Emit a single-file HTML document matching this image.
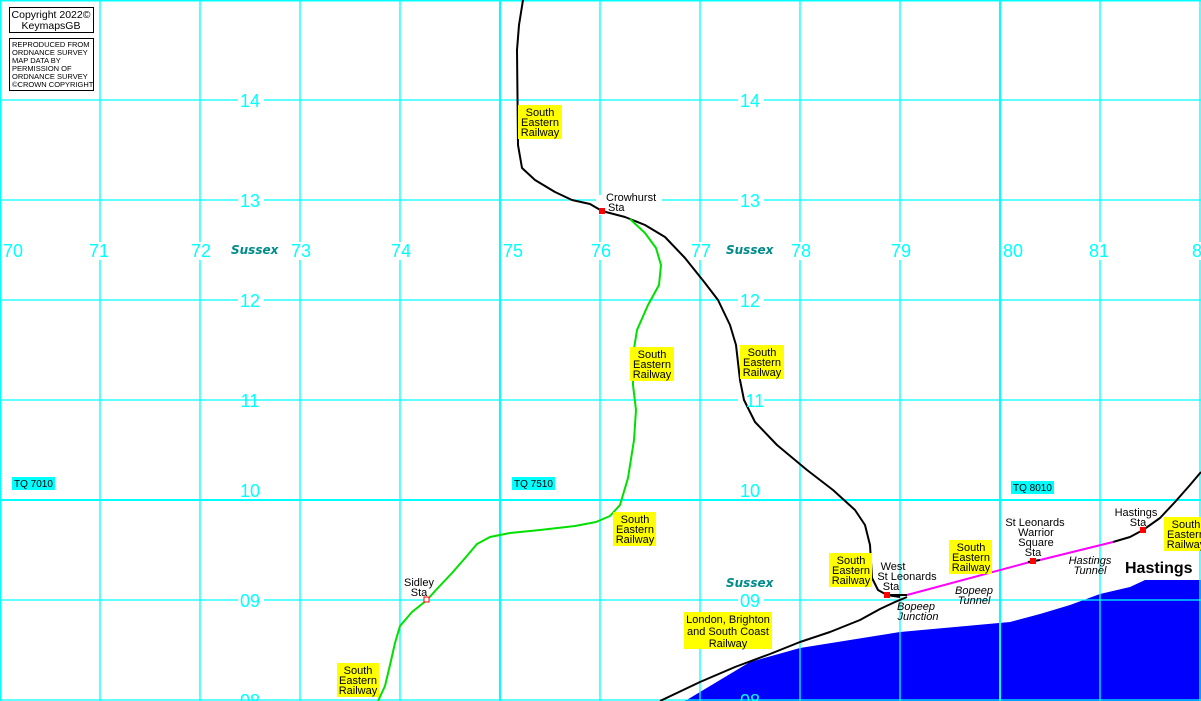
<!DOCTYPE html>
<html><head><meta charset="utf-8"><style>
body{margin:0;background:#fff}
svg{display:block}
.c{font-family:"Liberation Sans",sans-serif;font-size:18px;fill:#00ffff}
.s{font-family:"Liberation Sans",sans-serif;font-size:11px;fill:#000}
.sx{font-family:"DejaVu Sans",sans-serif;font-size:12px;font-style:italic;font-weight:bold;fill:#008b8b}
.it{font-family:"Liberation Sans",sans-serif;font-size:11px;font-style:italic;fill:#000}
</style></head><body>
<svg width="1201" height="701" viewBox="0 0 1201 701" xmlns="http://www.w3.org/2000/svg">
<rect width="1201" height="701" fill="#fff"/>
<path d="M685,701 L720,680 L750,662 L800,648 L850,640 L900,632 L1010,622 L1040,614 L1070,605 L1100,594 L1130,587 L1145,580 L1201,580 L1201,701 Z" fill="#0000ff"/>
<g stroke="#00ffff" stroke-width="1.3">
<line x1="0.5" y1="0" x2="0.5" y2="701" stroke-width="2"/>
<line x1="100" y1="0" x2="100" y2="701"/><line x1="200" y1="0" x2="200" y2="701"/>
<line x1="300" y1="0" x2="300" y2="701"/><line x1="400" y1="0" x2="400" y2="701"/>
<line x1="500" y1="0" x2="500" y2="701" stroke-width="2"/>
<line x1="600" y1="0" x2="600" y2="701"/><line x1="700" y1="0" x2="700" y2="701"/>
<line x1="800" y1="0" x2="800" y2="701"/><line x1="900" y1="0" x2="900" y2="701"/>
<line x1="1000" y1="0" x2="1000" y2="701" stroke-width="2"/>
<line x1="1100" y1="0" x2="1100" y2="701"/><line x1="1200" y1="0" x2="1200" y2="701"/>
<line x1="0" y1="0.5" x2="1201" y2="0.5" stroke-width="2"/>
<line x1="0" y1="100" x2="1201" y2="100"/><line x1="0" y1="200" x2="1201" y2="200"/>
<line x1="0" y1="300" x2="1201" y2="300"/><line x1="0" y1="400" x2="1201" y2="400"/>
<line x1="0" y1="500" x2="1201" y2="500" stroke-width="2"/>
<line x1="0" y1="600" x2="1201" y2="600"/><line x1="0" y1="700" x2="1201" y2="700"/>
</g>
<g fill="#fff">
<rect x="238" y="90" width="26" height="20"/><rect x="738" y="90" width="26" height="20"/>
<rect x="238" y="190" width="26" height="20"/><rect x="738" y="190" width="26" height="20"/>
<rect x="238" y="290" width="26" height="20"/><rect x="738" y="290" width="26" height="20"/>
<rect x="738" y="390" width="26" height="20"/>
<rect x="238" y="590" width="26" height="20"/><rect x="738" y="590" width="26" height="20"/>
<rect x="596" y="195" width="66" height="20"/>
<rect x="4" y="242" width="20" height="18"/><rect x="90" y="242" width="20" height="18"/>
<rect x="191" y="242" width="20" height="18"/><rect x="291" y="242" width="20" height="18"/>
<rect x="391" y="242" width="20" height="18"/><rect x="592" y="242" width="20" height="18"/>
<rect x="692" y="242" width="20" height="18"/><rect x="792" y="242" width="20" height="18"/>
<rect x="892" y="242" width="20" height="18"/><rect x="1091" y="242" width="20" height="18"/>
<rect x="1191" y="242" width="10" height="18"/>
</g>
<g fill="none" stroke-linejoin="round">
<path d="M523,0 L519,25 L517,50 L518,145 L522,168 L535,180 L555,192 L572,200 L590,204 L602,211 L625,217 L645,225 L665,237 L685,258 L705,283 L718,300 L730,325 L736,345 L740,380 L744,400 L755,422 L777,445 L807,470 L833,490 L855,510 L865,525 L870,545 L872,578 L878,590 L887,595 L900,597" stroke="#000" stroke-width="2"/>
<path d="M630,219 L645,233 L656,248 L661,265 L659,285 L648,305 L637,330 L633,355 L633,385 L636,410 L634,440 L628,478 L620,505 L610,516 L596,522 L575,526 L540,530 L510,533 L490,537 L477,544 L466,557 L452,573 L436,590 L427,600 L412,612 L400,626 L395,643 L390,665 L385,686 L378,701" stroke="#00e000" stroke-width="2"/>
<path d="M660,701 L700,682 L735,667 L770,654 L800,642 L830,632 L860,620 L880,609 L895,602 L907,597" stroke="#000" stroke-width="2"/>
<path d="M887,595 L907,595" stroke="#000" stroke-width="2"/>
<path d="M907,595 L1030,562 M1040,560 L1113,542" stroke="#ff00ff" stroke-width="2"/>
<path d="M1028,562 L1040,560 M1113,542 L1130,537 L1143,530 L1160,518 L1175,502 L1190,485 L1201,472" stroke="#000" stroke-width="2"/>
</g>
<g fill="#f00">
<rect x="599" y="208" width="6" height="6"/>
<rect x="884" y="592" width="6" height="6"/>
<rect x="1030" y="558" width="6" height="6"/>
<rect x="1140" y="527" width="6" height="6"/>
</g>
<rect x="424" y="597" width="5" height="5" fill="#fff" stroke="#f00" stroke-width="1"/>
<g class="c" text-anchor="middle">
<text x="250" y="107">14</text><text x="750" y="107">14</text>
<text x="250" y="207">13</text><text x="750" y="207">13</text>
<text x="250" y="307">12</text><text x="750" y="307">12</text>
<text x="250" y="407">11</text><text x="755" y="407">11</text>
<text x="250" y="497">10</text><text x="750" y="497">10</text>
<text x="250" y="607">09</text><text x="750" y="607">09</text>
<text x="250" y="707">08</text><text x="750" y="707">08</text>
<text x="13" y="257">70</text><text x="99" y="257">71</text><text x="201" y="257">72</text>
<text x="301" y="257">73</text><text x="401" y="257">74</text><text x="513" y="257">75</text>
<text x="601" y="257">76</text><text x="701" y="257">77</text><text x="801" y="257">78</text>
<text x="901" y="257">79</text><text x="1013" y="257">80</text><text x="1099" y="257">81</text>
<text x="1197" y="257">8</text>
</g>
<text class="sx" x="231" y="254">Sussex</text>
<text class="sx" x="726" y="254">Sussex</text>
<text class="sx" x="726" y="587">Sussex</text>
<g font-family="Liberation Sans,sans-serif" font-size="10">
<rect x="12" y="477" width="43" height="13" fill="#00ffff"/><text x="14" y="487">TQ 7010</text>
<rect x="512" y="477" width="43" height="13" fill="#00ffff"/><text x="514" y="487">TQ 7510</text>
<rect x="1011" y="481" width="43" height="13" fill="#00ffff"/><text x="1013" y="491">TQ 8010</text>
</g>
<g class="s" text-anchor="middle">
<g transform="translate(518,105)"><rect width="44" height="34" fill="#ff0"/><text x="22" y="11">South</text><text x="22" y="21">Eastern</text><text x="22" y="31">Railway</text></g>
<g transform="translate(630,347)"><rect width="44" height="34" fill="#ff0"/><text x="22" y="11">South</text><text x="22" y="21">Eastern</text><text x="22" y="31">Railway</text></g>
<g transform="translate(740,345)"><rect width="44" height="34" fill="#ff0"/><text x="22" y="11">South</text><text x="22" y="21">Eastern</text><text x="22" y="31">Railway</text></g>
<g transform="translate(613,512)"><rect width="43" height="34" fill="#ff0"/><text x="22" y="11">South</text><text x="22" y="21">Eastern</text><text x="22" y="31">Railway</text></g>
<g transform="translate(829,553)"><rect width="43" height="34" fill="#ff0"/><text x="22" y="11">South</text><text x="22" y="21">Eastern</text><text x="22" y="31">Railway</text></g>
<g transform="translate(949,540)"><rect width="43" height="34" fill="#ff0"/><text x="22" y="11">South</text><text x="22" y="21">Eastern</text><text x="22" y="31">Railway</text></g>
<g transform="translate(1164,517)"><rect width="43" height="34" fill="#ff0"/><text x="22" y="11">South</text><text x="22" y="21">Eastern</text><text x="22" y="31">Railway</text></g>
<g transform="translate(337,663)"><rect width="42" height="34" fill="#ff0"/><text x="21" y="11">South</text><text x="21" y="21">Eastern</text><text x="21" y="31">Railway</text></g>
<g transform="translate(684,612)"><rect width="88" height="37" fill="#ff0"/><text x="44" y="11">London, Brighton</text><text x="44" y="23">and South Coast</text><text x="44" y="35">Railway</text></g>
</g>
<g class="s">
<text x="606" y="201">Crowhurst</text><text x="608" y="211">Sta</text>
<text x="419" y="586" text-anchor="middle">Sidley</text><text x="419" y="596" text-anchor="middle">Sta</text>
<g text-anchor="middle">
<text x="893" y="570">West</text><text x="907" y="580">St Leonards</text><text x="891" y="590">Sta</text>
<text x="1035" y="526">St Leonards</text><text x="1036" y="536">Warrior</text><text x="1036" y="546">Square</text><text x="1033" y="556">Sta</text>
<text x="1136" y="516">Hastings</text><text x="1138" y="526">Sta</text>
</g>
</g>
<g class="it" text-anchor="middle">
<text x="974" y="594">Bopeep</text><text x="974" y="604">Tunnel</text>
<text x="916" y="610">Bopeep</text><text x="918" y="620">Junction</text>
<text x="1090" y="564">Hastings</text><text x="1090" y="574">Tunnel</text>
</g>
<text x="1125" y="573" font-family="Liberation Sans,sans-serif" font-size="16" font-weight="bold">Hastings</text>
<rect x="9.5" y="7.5" width="84" height="25" fill="#fff" stroke="#000"/>
<text x="51" y="18" text-anchor="middle" font-family="Liberation Sans,sans-serif" font-size="10.5">Copyright 2022©</text>
<text x="51" y="29" text-anchor="middle" font-family="Liberation Sans,sans-serif" font-size="10.5">KeymapsGB</text>
<rect x="9.5" y="38.5" width="84" height="52" fill="#fff" stroke="#000"/>
<g font-family="Liberation Sans,sans-serif" font-size="7.5">
<text x="12" y="47">REPRODUCED FROM</text><text x="12" y="55">ORDNANCE SURVEY</text>
<text x="12" y="63">MAP DATA BY</text><text x="12" y="71">PERMISSION OF</text>
<text x="12" y="79">ORDNANCE SURVEY</text><text x="12" y="87">©CROWN COPYRIGHT</text>
</g>
</svg>
</body></html>
